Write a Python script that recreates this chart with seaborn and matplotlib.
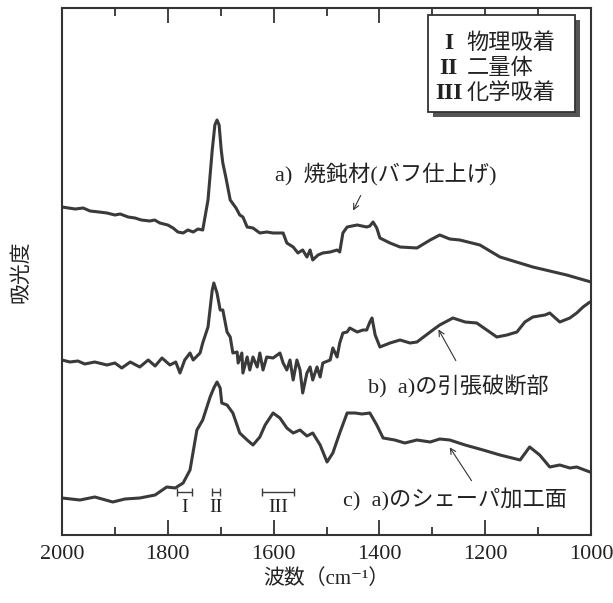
import numpy as np
import pandas as pd
import matplotlib
matplotlib.use("Agg")
import matplotlib.pyplot as plt
from matplotlib.patches import Rectangle
import seaborn as sns

# ---------------------------------------------------------------
# data (absorbance in arbitrary units)
# ---------------------------------------------------------------
wn_a = [2000, 1975, 1960, 1947, 1930, 1915, 1900, 1890, 1875, 1862, 1850, 1834, 1825,
        1815, 1800, 1790, 1781, 1771, 1762, 1752, 1743, 1734, 1724, 1716, 1711, 1707,
        1703, 1699, 1696, 1690, 1682, 1671, 1664, 1658, 1650, 1639, 1626, 1613, 1601,
        1582, 1575, 1563, 1554, 1545, 1537, 1531, 1526, 1516, 1507, 1493, 1480, 1475,
        1469, 1461, 1442, 1424, 1418, 1412, 1405, 1399, 1380, 1361, 1329, 1304, 1286,
        1267, 1248, 1210, 1172, 1110, 1046, 1000]
abs_a = [3.28, 3.26, 3.27, 3.24, 3.23, 3.22, 3.20, 3.21, 3.18, 3.17, 3.15, 3.14, 3.15,
         3.12, 3.10, 3.07, 3.03, 3.02, 3.05, 3.03, 3.06, 3.05, 3.35, 3.85, 4.10, 4.15,
         4.10, 3.85, 3.72, 3.57, 3.35, 3.27, 3.20, 3.18, 3.08, 3.07, 3.02, 3.03, 3.02,
         3.02, 2.92, 2.88, 2.82, 2.85, 2.78, 2.85, 2.75, 2.80, 2.82, 2.83, 2.85, 2.83,
         3.02, 3.08, 3.10, 3.08, 3.09, 3.13, 3.07, 2.97, 2.92, 2.88, 2.87, 2.95, 3.00,
         2.96, 2.95, 2.90, 2.78, 2.68, 2.60, 2.53]

wn_b = [2000, 1985, 1970, 1957, 1938, 1915, 1900, 1887, 1871, 1853, 1837, 1824, 1811,
        1796, 1785, 1777, 1768, 1758, 1752, 1739, 1734, 1724, 1716, 1713, 1707, 1701,
        1696, 1688, 1682, 1677, 1669, 1667, 1660, 1658, 1650, 1645, 1639, 1631, 1626,
        1620, 1613, 1601, 1588, 1582, 1575, 1569, 1563, 1556, 1550, 1545, 1537, 1531,
        1526, 1518, 1512, 1507, 1493, 1488, 1480, 1475, 1469, 1461, 1456, 1442, 1431,
        1424, 1418, 1414, 1408, 1399, 1380, 1361, 1342, 1329, 1314, 1299, 1286, 1261,
        1238, 1216, 1197, 1178, 1159, 1140, 1125, 1110, 1087, 1078, 1059, 1040, 1027,
        1015, 1002]
abs_b = [1.75, 1.73, 1.74, 1.71, 1.73, 1.70, 1.72, 1.67, 1.73, 1.68, 1.75, 1.69, 1.77,
         1.70, 1.73, 1.62, 1.75, 1.82, 1.75, 1.82, 1.92, 2.08, 2.45, 2.52, 2.42, 2.25,
         2.25, 2.03, 1.98, 1.82, 1.83, 1.72, 1.82, 1.62, 1.78, 1.65, 1.78, 1.68, 1.82,
         1.65, 1.78, 1.77, 1.82, 1.72, 1.65, 1.75, 1.55, 1.75, 1.65, 1.42, 1.62, 1.68,
         1.55, 1.68, 1.58, 1.72, 1.75, 1.87, 1.78, 1.92, 2.02, 2.03, 2.07, 2.03, 2.05,
         2.05, 2.13, 2.17, 2.00, 1.88, 1.92, 1.95, 1.92, 1.93, 1.99, 2.05, 2.10, 2.17,
         2.13, 2.12, 2.05, 1.98, 2.00, 2.03, 2.13, 2.18, 2.20, 2.22, 2.13, 2.17, 2.22,
         2.28, 2.33]

wn_c = [2000, 1966, 1938, 1904, 1881, 1853, 1824, 1802, 1786, 1771, 1758, 1745, 1734,
        1720, 1713, 1707, 1701, 1698, 1688, 1677, 1664, 1650, 1639, 1626, 1616, 1601,
        1588, 1575, 1563, 1550, 1537, 1526, 1512, 1499, 1488, 1475, 1461, 1446, 1433,
        1418, 1405, 1393, 1371, 1352, 1329, 1304, 1286, 1267, 1238, 1204, 1172, 1134,
        1116, 1097, 1078, 1059, 1040, 1027, 1002]
abs_c = [0.37, 0.35, 0.38, 0.33, 0.36, 0.37, 0.40, 0.48, 0.47, 0.52, 0.65, 1.05, 1.15,
         1.38, 1.47, 1.53, 1.47, 1.32, 1.30, 1.22, 1.02, 0.95, 0.90, 0.98, 1.10, 1.22,
         1.17, 1.07, 1.02, 1.05, 0.99, 1.02, 0.90, 0.73, 0.82, 1.02, 1.22, 1.22, 1.21,
         1.22, 1.10, 0.97, 0.95, 0.92, 0.95, 0.93, 0.96, 0.95, 0.90, 0.85, 0.80, 0.75,
         0.88, 0.80, 0.68, 0.70, 0.67, 0.68, 0.63]

# assignment bands (cm-1)
band_labels = ["I", "II", "III"]
band_lo = [1754, 1701, 1562]
band_hi = [1783, 1716, 1622]

legend_num = ["I", "II", "III"]
legend_txt = ["物理吸着", "二量体", "化学吸着"]

curve_labels = ["a)  焼鈍材(バフ仕上げ)", "b)  a)の引張破断部", "c)  a)のシェーパ加工面"]

LINE = "#3a3a3a"
TXT = "#222222"

# ---------------------------------------------------------------
# style: Times-like latin, CJK falls back to Noto Sans CJK JP
# ---------------------------------------------------------------
sns.set_style("ticks")
plt.rcParams["font.family"] = ["Liberation Serif", "Noto Sans CJK JP", "DejaVu Serif"]
plt.rcParams["axes.edgecolor"] = "#333333"
plt.rcParams["axes.linewidth"] = 1.5

fig = plt.figure(figsize=(6.13, 6.03), dpi=100)
ax = fig.add_axes([62 / 613, (603 - 535) / 603, 529 / 613, 527 / 603])

for wn, ab in [(wn_a, abs_a), (wn_b, abs_b), (wn_c, abs_c)]:
    df = pd.DataFrame({"wn": wn, "abs": ab})
    sns.lineplot(data=df, x="wn", y="abs", ax=ax, color=LINE, lw=2.2,
                 estimator=None, sort=False)

ax.set_xlim(2000, 1000)
ax.set_ylim(0, 5.27)
ax.set_xticks(np.arange(1000, 2001, 200))
ax.set_xticks(np.arange(1100, 2000, 200), minor=True)
ax.set_yticks([])
ax.tick_params(axis="x", which="both", direction="in", top=True, width=1.3, color="#333333")
ax.tick_params(axis="x", which="major", length=11, labelsize=16, pad=7, labelcolor=TXT)
ax.tick_params(axis="x", which="minor", length=6)

ax.set_xlabel("波数（cm⁻¹）", fontsize=15, labelpad=4, color=TXT)
ax.set_ylabel("吸光度", fontsize=15, labelpad=22, color=TXT)

# band markers I, II, III
for lab, lo, hi in zip(band_labels, band_lo, band_hi):
    mid = (lo + hi) / 2
    ax.errorbar(mid, 0.43, xerr=(hi - lo) / 2, color=LINE, lw=1.0, capsize=3,
                capthick=1.0, fmt="none")
    ax.text(mid, 0.27, lab, ha="center", va="center", fontsize=14, color=TXT)

# curve labels with arrows
ax.text(1597, 3.60, curve_labels[0], fontsize=16, ha="left", va="center", color=TXT)
ax.annotate("", xy=(1452, 3.22), xytext=(1433, 3.42),
            arrowprops=dict(arrowstyle="->", lw=0.8, color="#333333"))
ax.text(1422, 1.48, curve_labels[1], fontsize=16, ha="left", va="center", color=TXT)
ax.annotate("", xy=(1291, 2.08), xytext=(1253, 1.72),
            arrowprops=dict(arrowstyle="->", lw=0.8, color="#333333"))
ax.text(1469, 0.35, curve_labels[2], fontsize=16, ha="left", va="center", color=TXT)
ax.annotate("", xy=(1270, 0.90), xytext=(1223, 0.52),
            arrowprops=dict(arrowstyle="->", lw=0.8, color="#333333"))

# legend box with drop shadow
x0, y0, w, h = 0.692, 0.803, 0.278, 0.184
ax.add_patch(Rectangle((x0 + 0.009, y0 - 0.010), w, h, transform=ax.transAxes,
                       facecolor="#555555", edgecolor="none", zorder=5))
ax.add_patch(Rectangle((x0, y0), w, h, transform=ax.transAxes,
                       facecolor="white", edgecolor="#333333", lw=1.3, zorder=6))
for i, (num, txt) in enumerate(zip(legend_num, legend_txt)):
    yy = [0.932, 0.885, 0.838][i]
    ax.text(0.731, yy, num, transform=ax.transAxes, ha="center", va="center",
            fontsize=17, weight="bold", color=TXT, zorder=7)
    ax.text(0.765, yy, txt, transform=ax.transAxes, ha="left", va="center",
            fontsize=16, color=TXT, zorder=7)

fig.savefig("out.png", dpi=100)
